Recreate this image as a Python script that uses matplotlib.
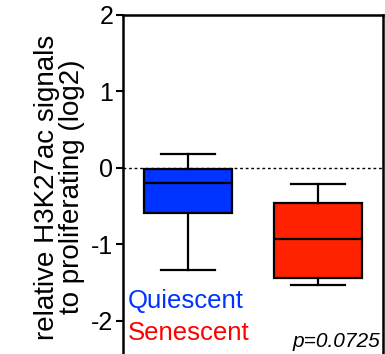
import numpy as np
import matplotlib.pyplot as plt

plt.rcParams['font.family'] = ['Liberation Sans', 'DejaVu Sans']

# box statistics (log2 ratio to proliferating)
groups = ['Quiescent', 'Senescent']
colors = ['#0033ff', '#ff2200']
whislo = [-1.33, -1.53]
q1 = [-0.59, -1.44]
med = [-0.20, -0.93]
q3 = [-0.01, -0.46]
whishi = [0.18, -0.21]
yticks = [-2, -1, 0, 1, 2]
pval = 'p=0.0725'

stats = []
for i in range(len(groups)):
    stats.append(dict(label=groups[i], whislo=whislo[i], q1=q1[i], med=med[i],
                      q3=q3[i], whishi=whishi[i], fliers=[]))

fig = plt.figure(figsize=(3.85, 3.54), dpi=100)
ax = fig.add_axes([123/385, -5/354, 260/385, 344/354])

bp = ax.bxp(stats, positions=[1, 2], widths=0.67, patch_artist=True,
            showfliers=False,
            boxprops=dict(linewidth=1.6, edgecolor='black'),
            medianprops=dict(color='black', linewidth=1.6),
            whiskerprops=dict(color='black', linewidth=1.6),
            capprops=dict(color='black', linewidth=1.6))
for patch, c in zip(bp['boxes'], colors):
    patch.set_facecolor(c)
for cap in bp['caps']:
    x = cap.get_xdata()
    m = x.mean()
    cap.set_xdata([m - 0.21, m + 0.21])

ax.axhline(0, color='black', linestyle=(0, (2, 2)), linewidth=1, zorder=0)

ax.set_xlim(0.5, 2.5)
ax.set_ylim(-2.5, 2)
ax.set_yticks(yticks)
ax.set_yticklabels([str(t) for t in yticks], fontsize=18)
ax.set_xticks([])
ax.tick_params(axis='y', direction='out', length=5, width=1.5, pad=2)
for s in ax.spines.values():
    s.set_linewidth(1.8)

ax.set_ylabel('relative H3K27ac signals\nto proliferating (log2)', fontsize=20,
              labelpad=4, linespacing=0.95)

ax.text(0.02, 0.17, groups[0], color=colors[0], fontsize=18.5,
        transform=ax.transAxes, ha='left', va='center')
ax.text(0.02, 0.075, groups[1], color='#ff0000', fontsize=18.5,
        transform=ax.transAxes, ha='left', va='center')
ax.text(0.988, 0.05, pval, fontsize=15, style='italic',
        transform=ax.transAxes, ha='right', va='center')

fig.savefig('out.png', dpi=100)
